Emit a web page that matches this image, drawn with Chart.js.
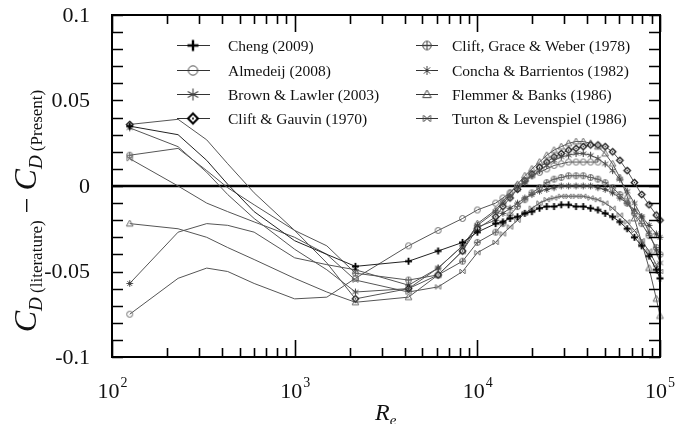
<!DOCTYPE html>
<html><head><meta charset="utf-8">
<script src="https://cdn.jsdelivr.net/npm/chart.js@4/dist/chart.umd.min.js"></script>
<style>html,body{margin:0;padding:0;background:#fff}#wrap{width:675px;height:424px;position:relative}</style>
</head><body><div id="wrap"><canvas id="c"></canvas></div>
<script>
// Reynolds numbers (shared x values)
const re = [125, 230, 330, 430, 600, 1000, 1500, 2150, 4200, 6100, 8300, 10000,
  12600, 13800, 15100, 16600, 18200, 19900, 21900, 24000, 26300, 28800, 31600, 34700,
  38000, 41700, 45700, 50100, 55000, 60300, 66100, 72400, 79400, 87100, 95500, 100000];

const cheng = [0.035, 0.030, 0.015, 0.001, -0.015, -0.032, -0.040, -0.047, -0.044, -0.038, -0.033, -0.027,
  -0.022, -0.021, -0.019, -0.018, -0.016, -0.015, -0.013, -0.012, -0.012, -0.011, -0.011, -0.012,
  -0.012, -0.013, -0.014, -0.016, -0.018, -0.021, -0.025, -0.030, -0.035, -0.041, -0.049, -0.054];
const almedeij = [-0.075, -0.054, -0.048, -0.050, -0.057, -0.066, -0.065, -0.054, -0.035, -0.026, -0.019, -0.014,
  -0.010, -0.007, -0.004, 0.000, 0.003, 0.006, 0.008, 0.010, 0.012, 0.013, 0.014, 0.014,
  0.014, 0.014, 0.014, null, null, null, null, null, null, null, null, null];
const brown = [0.034, 0.023, 0.008, -0.005, -0.019, -0.037, -0.049, -0.062, -0.060, -0.048, -0.035, -0.023,
  -0.015, -0.010, -0.006, -0.002, 0.002, 0.006, 0.009, 0.012, 0.015, 0.017, 0.018, 0.019,
  0.019, 0.018, 0.016, 0.013, 0.009, 0.004, -0.003, -0.010, -0.018, -0.027, -0.038, -0.045];
const cliftGauvin = [0.036, 0.039, 0.027, 0.013, -0.004, -0.026, -0.045, -0.066, -0.060, -0.052, -0.038, -0.025,
  -0.018, -0.012, -0.007, -0.002, 0.003, 0.007, 0.011, 0.014, 0.017, 0.019, 0.021, 0.022,
  0.023, 0.024, 0.024, 0.023, 0.020, 0.015, 0.009, 0.002, -0.005, -0.011, -0.017, -0.020];
const cliftGraceWeber = [0.018, 0.022, 0.009, -0.001, -0.011, -0.026, -0.035, -0.051, -0.055, -0.052, -0.044, -0.033,
  -0.027, -0.022, -0.017, -0.012, -0.008, -0.004, -0.001, 0.002, 0.004, 0.005, 0.006, 0.006,
  0.006, 0.005, 0.004, 0.002, -0.001, -0.005, -0.010, -0.016, -0.022, -0.029, -0.036, -0.040];
const concha = [-0.057, -0.027, -0.022, -0.023, -0.027, -0.042, -0.046, -0.049, -0.058, -0.048, -0.035, -0.024,
  -0.020, -0.016, -0.013, -0.010, -0.007, -0.005, -0.003, -0.002, -0.001, 0.000, 0.000, 0.000,
  0.000, 0.000, -0.001, -0.002, -0.004, -0.007, -0.010, -0.014, -0.018, -0.023, -0.028, -0.030];
const flemmer = [-0.022, -0.025, -0.030, -0.036, -0.043, -0.054, -0.062, -0.068, -0.065, -0.052, -0.038, -0.022,
  -0.014, -0.009, -0.004, 0.001, 0.006, 0.010, 0.014, 0.018, 0.021, 0.023, 0.025, 0.026,
  0.026, 0.025, 0.023, 0.019, 0.013, 0.005, -0.006, -0.019, -0.033, -0.048, -0.066, -0.076];
const turton = [0.016, 0.000, -0.010, -0.015, -0.021, -0.030, -0.040, -0.055, -0.062, -0.059, -0.050, -0.039,
  -0.033, -0.028, -0.024, -0.020, -0.016, -0.013, -0.010, -0.008, -0.007, -0.006, -0.006, -0.006,
  -0.006, -0.007, -0.008, -0.010, -0.013, -0.017, -0.021, -0.026, -0.032, -0.038, -0.046, -0.050];

const labels = ['Cheng (2009)', 'Almedeij (2008)', 'Brown & Lawler (2003)', 'Clift & Gauvin (1970)',
  'Clift, Grace & Weber (1978)', 'Concha & Barrientos (1982)', 'Flemmer & Banks (1986)', 'Turton & Levenspiel (1986)'];

const yMajorTicks = [-0.1, -0.05, 0, 0.05, 0.1];
const yTickLabels = ['-0.1', '-0.05', '0', '0.05', '0.1'];
const xMajorTicks = [100, 1000, 10000, 100000];
const xTickExponents = ['2', '3', '4', '5'];

function makeMarker(type, s, color, lw) {
  const W = Math.ceil(2 * s + 2 * lw + 2);
  const c = document.createElement('canvas');
  c.width = W; c.height = W;
  const g = c.getContext('2d');
  const m = W / 2;
  g.strokeStyle = color; g.lineWidth = lw; g.fillStyle = color;
  g.beginPath();
  const line = (x1, y1, x2, y2) => { g.moveTo(m + x1, m + y1); g.lineTo(m + x2, m + y2); };
  switch (type) {
    case 'plus': line(-s, 0, s, 0); line(0, -s, 0, s); g.stroke(); break;
    case 'circle': g.arc(m, m, s * 0.85, 0, Math.PI * 2); g.stroke(); break;
    case 'ast6':
      for (let k = 0; k < 3; k++) { const a = Math.PI / 2 + k * Math.PI / 3;
        line(s * Math.cos(a), s * Math.sin(a), -s * Math.cos(a), -s * Math.sin(a)); }
      g.stroke(); break;
    case 'diamond':
      g.moveTo(m, m - s); g.lineTo(m + s, m); g.lineTo(m, m + s); g.lineTo(m - s, m); g.closePath();
      g.fillStyle = '#fff'; g.fill(); g.stroke();
      g.beginPath(); g.arc(m, m, Math.max(0.6, s * 0.2), 0, Math.PI * 2); g.fillStyle = color; g.fill(); break;
    case 'oplus':
      g.arc(m, m, s * 0.85, 0, Math.PI * 2); line(-s * 0.85, 0, s * 0.85, 0); line(0, -s * 0.85, 0, s * 0.85); g.stroke(); break;
    case 'star8':
      line(-s, 0, s, 0); line(0, -s, 0, s);
      line(-s * 0.7, -s * 0.7, s * 0.7, s * 0.7); line(-s * 0.7, s * 0.7, s * 0.7, -s * 0.7); g.stroke(); break;
    case 'triangle':
      g.moveTo(m, m - s); g.lineTo(m + s * 0.95, m + s * 0.7); g.lineTo(m - s * 0.95, m + s * 0.7); g.closePath(); g.stroke(); break;
    case 'xbar':
      line(-s * 0.7, -s * 0.7, s * 0.7, s * 0.7); line(-s * 0.7, s * 0.7, s * 0.7, -s * 0.7);
      line(-s * 0.8, -s * 0.7, -s * 0.8, s * 0.7); line(s * 0.8, -s * 0.7, s * 0.8, s * 0.7); g.stroke(); break;
  }
  return c;
}

const styles = [
  { mk: 'plus', color: '#000', line: '#222', lw: 1.8, ps: 3.5, ls: 5.5, llw: 2.4 },
  { mk: 'circle', color: '#666', line: '#555', lw: 1, ps: 3.5, ls: 5.5, llw: 1 },
  { mk: 'ast6', color: '#444', line: '#555', lw: 1, ps: 3.5, ls: 6, llw: 1.1 },
  { mk: 'diamond', color: '#111', line: '#555', lw: 1.3, ps: 3.2, ls: 5, llw: 2 },
  { mk: 'oplus', color: '#666', line: '#555', lw: 1, ps: 3.5, ls: 5, llw: 1 },
  { mk: 'star8', color: '#444', line: '#555', lw: 1, ps: 3.3, ls: 4.5, llw: 1 },
  { mk: 'triangle', color: '#666', line: '#555', lw: 1, ps: 3.5, ls: 4.5, llw: 1 },
  { mk: 'xbar', color: '#666', line: '#555', lw: 1, ps: 3.3, ls: 4.5, llw: 1 }
];
const seriesData = [cheng, almedeij, brown, cliftGauvin, cliftGraceWeber, concha, flemmer, turton];

const datasets = seriesData.map((arr, i) => {
  const st = styles[i];
  return {
    label: labels[i],
    data: re.map((x, j) => ({ x: x, y: arr[j] })),
    borderColor: st.line,
    borderWidth: 1,
    tension: 0,
    pointStyle: makeMarker(st.mk, st.ps, st.color, st.lw),
    pointRadius: (c) => { const v = c.raw && c.raw.x; return (v > 150 && v < 2000) ? 0 : 3; },
    clip: false,
    order: i === 0 ? 0 : 1
  };
});

const SERIF = '"Liberation Serif", "Times New Roman", "DejaVu Serif", serif';

const deco = {
  id: 'deco',
  beforeDatasetsDraw(chart) {
    const { ctx, chartArea: a, scales: { y } } = chart;
    ctx.save();
    ctx.strokeStyle = '#000'; ctx.lineWidth = 2.6;
    const y0 = y.getPixelForValue(0);
    ctx.beginPath(); ctx.moveTo(a.left, y0); ctx.lineTo(a.right, y0); ctx.stroke();
    ctx.restore();
  },
  afterDatasetsDraw(chart) {
    const { ctx, chartArea: a, scales: { x, y } } = chart;
    ctx.save();
    ctx.strokeStyle = '#000'; ctx.lineWidth = 2;
    ctx.strokeRect(a.left, a.top, a.right - a.left, a.bottom - a.top);
    ctx.lineWidth = 1.6;
    ctx.beginPath();
    for (let k = -10; k <= 10; k++) {
      const py = Math.round(y.getPixelForValue(k / 100)) + 0.5;
      ctx.moveTo(a.left, py); ctx.lineTo(a.left + 11, py);
      ctx.moveTo(a.right, py); ctx.lineTo(a.right - 11, py);
    }
    for (let d = 100; d < 100000; d *= 10) {
      for (let m = 1; m <= 10; m++) {
        const v = d * m;
        const px = Math.round(x.getPixelForValue(v)) + 0.5;
        const major = (m === 1 || m === 10);
        const L = major ? 17 : 9;
        ctx.moveTo(px, a.bottom); ctx.lineTo(px, a.bottom - L);
        ctx.moveTo(px, a.top); ctx.lineTo(px, a.top + L);
      }
    }
    ctx.stroke();
    ctx.restore();
  },
  afterDraw(chart) {
    const { ctx, chartArea: a, scales: { x, y } } = chart;
    ctx.save();
    ctx.fillStyle = '#111';
    // y tick labels
    ctx.font = '22px ' + SERIF;
    ctx.textAlign = 'right'; ctx.textBaseline = 'middle';
    yMajorTicks.forEach((v, i) => ctx.fillText(yTickLabels[i], a.left - 22, y.getPixelForValue(v) + 1));
    // x tick labels 10^n
    ctx.textBaseline = 'alphabetic';
    xMajorTicks.forEach((v, i) => {
      const px = x.getPixelForValue(v);
      ctx.font = '22px ' + SERIF;
      const w1 = ctx.measureText('10').width;
      ctx.font = '14px ' + SERIF;
      const w2 = ctx.measureText(xTickExponents[i]).width;
      let left = px - (w1 + w2) / 2;
      if (left + w1 + w2 > 674) left = 674 - w1 - w2;
      ctx.textAlign = 'left';
      ctx.font = '22px ' + SERIF;
      ctx.fillText('10', left, 398);
      ctx.font = '14px ' + SERIF;
      ctx.fillText(xTickExponents[i], left + w1 + 1, 387);
    });
    // x title R_e
    ctx.textAlign = 'left';
    ctx.font = 'italic 24px ' + SERIF;
    ctx.fillText('R', 375, 420);
    const wR = ctx.measureText('R').width;
    ctx.font = 'italic 15px ' + SERIF;
    ctx.fillText('e', 375 + wR, 425);
    // y title
    const segs = [
      { t: 'C', f: 'italic 32px ', dy: 0 },
      { t: 'D', f: 'italic 19px ', dy: 6 },
      { t: ' (literature)', f: '17px ', dy: 6 },
      { t: ' \u2212 ', f: '28px ', dy: 0 },
      { t: 'C', f: 'italic 32px ', dy: 0 },
      { t: 'D', f: 'italic 19px ', dy: 6 },
      { t: ' (Present)', f: '17px ', dy: 6 }
    ];
    let total = 0;
    segs.forEach(s => { ctx.font = s.f + SERIF; s.w = ctx.measureText(s.t).width; total += s.w; });
    ctx.translate(36, 211);
    ctx.rotate(-Math.PI / 2);
    let cx = -total / 2;
    segs.forEach(s => { ctx.font = s.f + SERIF; ctx.fillText(s.t, cx, s.dy); cx += s.w; });
    ctx.restore();

    // legend
    ctx.save();
    const rows = [45, 70, 94, 118];
    const cols = [{ l0: 177, l1: 210, mx: 193, tx: 228 }, { l0: 416, l1: 438, mx: 427, tx: 452 }];
    ctx.font = '15.5px ' + SERIF;
    ctx.textBaseline = 'middle'; ctx.textAlign = 'left';
    labels.forEach((lab, i) => {
      const col = cols[Math.floor(i / 4)];
      const ry = rows[i % 4] + 0.5;
      const st = styles[i];
      ctx.strokeStyle = '#333'; ctx.lineWidth = 1;
      ctx.beginPath(); ctx.moveTo(col.l0, ry); ctx.lineTo(col.l1, ry); ctx.stroke();
      const img = makeMarker(st.mk, st.ls, i === 0 || i === 3 ? '#000' : '#444', st.llw);
      ctx.drawImage(img, col.mx - img.width / 2, ry - img.height / 2);
      ctx.fillStyle = '#111';
      ctx.fillText(lab, col.tx, ry + 1);
    });
    ctx.restore();
  }
};

new Chart(document.getElementById('c'), {
  type: 'line',
  data: { datasets },
  options: {
    responsive: true, maintainAspectRatio: false, animation: false, devicePixelRatio: 1,
    layout: { padding: { left: 112, right: 15, top: 15, bottom: 67 } },
    plugins: { legend: { display: false }, tooltip: { enabled: false } },
    scales: {
      x: { type: 'logarithmic', min: 100, max: 100000, display: false },
      y: { type: 'linear', min: -0.1, max: 0.1, display: false }
    }
  },
  plugins: [deco]
});
</script>
</body></html>
